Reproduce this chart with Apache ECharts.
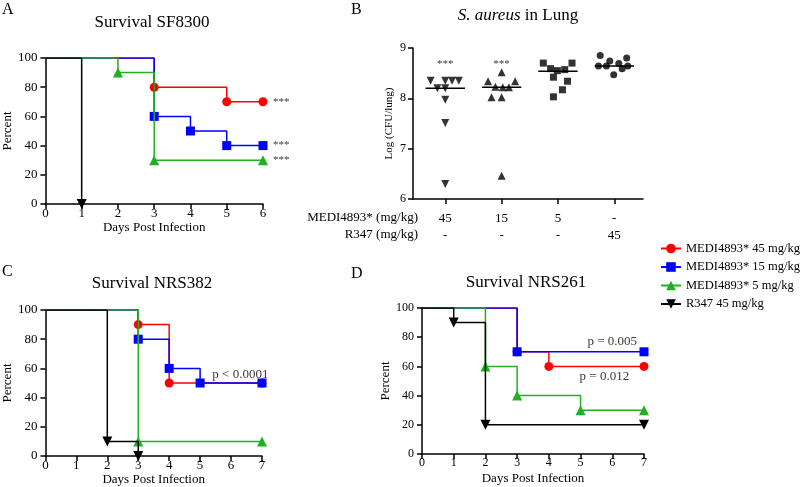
<!DOCTYPE html>
<html><head><meta charset="utf-8">
<script src="https://cdn.jsdelivr.net/npm/echarts@6/dist/echarts.min.js"></script>
<style>html,body{margin:0;padding:0;background:#fff}#c{width:800px;height:487px}</style>
</head><body><div id="c"></div>
<script>
// ---------- data ----------
const groupNames = ['MEDI4893* 45 mg/kg','MEDI4893* 15 mg/kg','MEDI4893* 5 mg/kg','R347 45 mg/kg'];
// Panel A (SF8300) Kaplan-Meier: days and percent survival
const A45_t = [0,3,5,6],   A45_s = [100,80,70,70];
const A15_t = [0,3,4,5,6], A15_s = [100,60,50,40,40];
const A5_t  = [0,2,3,6],   A5_s  = [100,90,30,30];
const AR_t  = [0,1],       AR_s  = [100,0];
const A_stars = [70,40,30];
// Panel C (NRS382)
const C45_t = [0,3,4,7],   C45_s = [100,90,50,50];
const C15_t = [0,3,4,5,7], C15_s = [100,80,60,50,50];
const C5_t  = [0,3,7],     C5_s  = [100,10,10];
const CR_t  = [0,2,3],     CR_s  = [100,10,0];
// Panel D (NRS261)
const D45_t = [0,3,4,7],   D45_s = [100,70,60,60];
const D15_t = [0,3,7],     D15_s = [100,70,70];
const D5_t  = [0,2,3,5,7], D5_s  = [100,60,40,30,30];
const DR_t  = [0,1,2,7],   DR_s  = [100,90,20,20];
// Panel B: log CFU/lung per animal, with horizontal jitter offsets
const B45_v = [8.35,8.35,8.35,8.35,8.20,8.20,7.97,7.51,6.30];
const B45_j = [-0.26,0,0.12,0.24,-0.14,0,0,0,0];
const B15_v = [8.52,8.34,8.34,8.23,8.22,8.22,8.02,8.02,6.46];
const B15_j = [0,-0.24,0.24,-0.11,0.02,0.13,-0.18,0,0];
const B5_v  = [8.70,8.70,8.59,8.55,8.57,8.42,8.34,8.17,8.03];
const B5_j  = [-0.26,0.25,-0.13,-0.01,0.12,-0.08,0.17,0.08,-0.08];
const BR_v  = [8.85,8.80,8.74,8.69,8.64,8.64,8.64,8.59,8.47];
const BR_j  = [-0.25,0.22,-0.08,0.08,-0.28,-0.14,0.24,0.14,-0.01];
const B_medians = [8.20,8.22,8.54,8.64];
const B_medi = ['45','15','5','-'];
const B_r347 = ['-','-','-','45'];
const B_stars = [[1,8.68],[2,8.68]];
// p-value annotations
const C_p = [[6.3,56,'p < 0.0001']];
const D_p = [[6.0,77,'p = 0.005'],[5.75,53,'p = 0.012']];

// ---------- style ----------
const FF = 'Liberation Serif';
const colors = ['#ff0000','#0000ff','#22b022','#000000'];
const symbols = ['circle','rect','triangle','triangle'];
const symSize = [9,9,10,10];
const rot = [0,0,0,180];

function km(t,s){
  return t.map((d,i)=> i===0 ? {value:[d,s[i]], symbolSize:0} : {value:[d,s[i]]});
}
function kmSeries(idx, t, s, ax){
  return {
    type:'line', name:groupNames[idx], xAxisIndex:ax, yAxisIndex:ax,
    step:'end', data:km(t,s), symbol:symbols[idx], symbolSize:symSize[idx],
    symbolRotate:rot[idx], showAllSymbol:true, animation:false,
    lineStyle:{color:colors[idx], width:1.5}, itemStyle:{color:colors[idx]},
    z: 2+idx
  };
}
function annot(ax, pts, fontSize){
  return {type:'scatter', xAxisIndex:ax, yAxisIndex:ax, symbolSize:0, silent:true,
    itemStyle:{color:'transparent'}, animation:false,
    data: pts.map(p=>({value:[p[0],p[1]], label:{formatter:p[2]}})),
    label:{show:true, position:'inside', color:'#000', fontFamily:FF, fontSize:fontSize}};
}

const axisCommon = {
  axisLine:{show:true, onZero:false, lineStyle:{color:'#000', width:1.5}},
  axisTick:{show:true, length:5, lineStyle:{color:'#000', width:1.5}},
  splitLine:{show:false},
};
function survX(max, fs, gap){
  return Object.assign({}, axisCommon, {type:'value', min:0, max:max, interval:1,
    name:'Days Post Infection', nameLocation:'middle', nameGap:gap,
    nameTextStyle:{fontFamily:FF, fontSize:13, color:'#000'},
    axisLabel:{fontFamily:FF, fontSize:fs, color:'#000', margin:3}});
}
function survY(fs, gap){
  return Object.assign({}, axisCommon, {type:'value', min:0, max:100, interval:20,
    name:'Percent', nameLocation:'middle', nameGap:gap,
    nameTextStyle:{fontFamily:FF, fontSize:13, color:'#000'},
    axisLabel:{fontFamily:FF, fontSize:fs, color:'#000', margin:8}});
}

const series = [];
// A  (axis 0)
series.push(kmSeries(0,A45_t,A45_s,0), kmSeries(1,A15_t,A15_s,0), kmSeries(2,A5_t,A5_s,0), kmSeries(3,AR_t,AR_s,0));
series.push({type:'scatter', xAxisIndex:0, yAxisIndex:0, symbolSize:0, silent:true, animation:false,
  itemStyle:{color:'transparent'}, data:A_stars.map(v=>[6,v]),
  label:{show:true, position:'right', distance:10, formatter:'***', color:'#000', fontFamily:FF, fontSize:11}});
// C (axis 2)
series.push(kmSeries(0,C45_t,C45_s,2), kmSeries(1,C15_t,C15_s,2), kmSeries(2,C5_t,C5_s,2), kmSeries(3,CR_t,CR_s,2));
series.push(annot(2, C_p, 13));
// D (axis 3)
series.push(kmSeries(0,D45_t,D45_s,3), kmSeries(1,D15_t,D15_s,3), kmSeries(2,D5_t,D5_s,3), kmSeries(3,DR_t,DR_s,3));
series.push(annot(3, D_p, 13));
// B (axis 1)
const Bvals = [B45_v,B15_v,B5_v,BR_v], Bjit = [B45_j,B15_j,B5_j,BR_j];
const Bsym = ['triangle','triangle','rect','circle'], Brot = [180,0,0,0], Bsize=[8,8,7,7];
Bvals.forEach((vals,g)=>{
  series.push({type:'scatter', xAxisIndex:1, yAxisIndex:1, animation:false,
    symbol:Bsym[g], symbolRotate:Brot[g], symbolSize:Bsize[g], itemStyle:{color:'#000'},
    data: vals.map((v,i)=>[g+1+Bjit[g][i], v])});
  series.push({type:'line', xAxisIndex:1, yAxisIndex:1, animation:false, symbol:'none',
    lineStyle:{color:'#000', width:1.5},
    data:[[g+1-0.35, B_medians[g]],[g+1+0.35, B_medians[g]]]});
});
series.push({type:'scatter', xAxisIndex:1, yAxisIndex:1, symbolSize:0, silent:true, animation:false,
  itemStyle:{color:'transparent'}, data:B_stars,
  label:{show:true, position:'inside', formatter:'***', color:'#000', fontFamily:FF, fontSize:11}});

const option = {
  backgroundColor:'#fff',
  animation:false,
  grid:[
    {left:45, top:58, width:218, height:146},
    {left:413, top:48, width:230, height:151},
    {left:42, top:310, width:220, height:146},
    {left:422, top:308, width:222, height:146}
  ],
  xAxis:[
    Object.assign(survX(6,13,17),{gridIndex:0}),
    Object.assign({}, axisCommon, {gridIndex:1, type:'value', min:0.427, max:4.51,
      axisTick:{show:true, length:5, lineStyle:{color:'#000', width:1.5}, customValues:[1,2,3,4]},
      axisLabel:{fontFamily:FF, fontSize:13, color:'#000', margin:11, lineHeight:17,
        customValues:[1,2,3,4], formatter:v=>{const i=Math.round(v)-1; return B_medi[i]+'\n'+B_r347[i];}}}),
    Object.assign(survX(7,13,17),{gridIndex:2}),
    Object.assign(survX(7,12,18),{gridIndex:3})
  ],
  yAxis:[
    Object.assign(survY(13,31),{gridIndex:0}),
    Object.assign({}, axisCommon, {gridIndex:1, type:'value', min:6, max:9, interval:1,
      name:'Log (CFU/lung)', nameLocation:'middle', nameGap:18,
      nameTextStyle:{fontFamily:FF, fontSize:11, color:'#000'},
      axisLabel:{fontFamily:FF, fontSize:12, color:'#000', margin:7}}),
    Object.assign(survY(13,29),{gridIndex:2}),
    Object.assign(survY(12,28),{gridIndex:3})
  ],
  legend:{
    orient:'vertical', left:655, top:237, itemWidth:20, itemHeight:12, itemGap:5.5, itemTextGap:5,
    data:groupNames, textStyle:{fontFamily:FF, fontSize:12.5, color:'#000'}
  },
  graphic:[
    {type:'text', left:2, top:2, style:{text:'A', font:'16px "Liberation Serif"', fill:'#000'}},
    {type:'text', left:351, top:2, style:{text:'B', font:'16px "Liberation Serif"', fill:'#000'}},
    {type:'text', left:2, top:264, style:{text:'C', font:'16px "Liberation Serif"', fill:'#000'}},
    {type:'text', left:351, top:266, style:{text:'D', font:'16px "Liberation Serif"', fill:'#000'}},
    {type:'text', x:152, y:23, style:{text:'Survival SF8300', font:'17px "Liberation Serif"', fill:'#000', align:'center', verticalAlign:'middle'}},
    {type:'text', x:518, y:16, style:{text:'{i|S. aureus} in Lung', font:'17px "Liberation Serif"', fill:'#000', align:'center', verticalAlign:'middle',
      rich:{i:{fontStyle:'italic', fontFamily:FF, fontSize:17}}}},
    {type:'text', x:152, y:284, style:{text:'Survival NRS382', font:'17px "Liberation Serif"', fill:'#000', align:'center', verticalAlign:'middle'}},
    {type:'text', x:526, y:283, style:{text:'Survival NRS261', font:'17px "Liberation Serif"', fill:'#000', align:'center', verticalAlign:'middle'}},
    {type:'text', x:418, y:218, style:{text:'MEDI4893* (mg/kg)', font:'13px "Liberation Serif"', fill:'#000', align:'right', verticalAlign:'middle'}},
    {type:'text', x:418, y:235, style:{text:'R347 (mg/kg)', font:'13px "Liberation Serif"', fill:'#000', align:'right', verticalAlign:'middle'}}
  ],
  series: series
};
const chart = echarts.init(document.getElementById('c'), null, {renderer:'canvas'});
chart.setOption(option);
</script></body></html>
